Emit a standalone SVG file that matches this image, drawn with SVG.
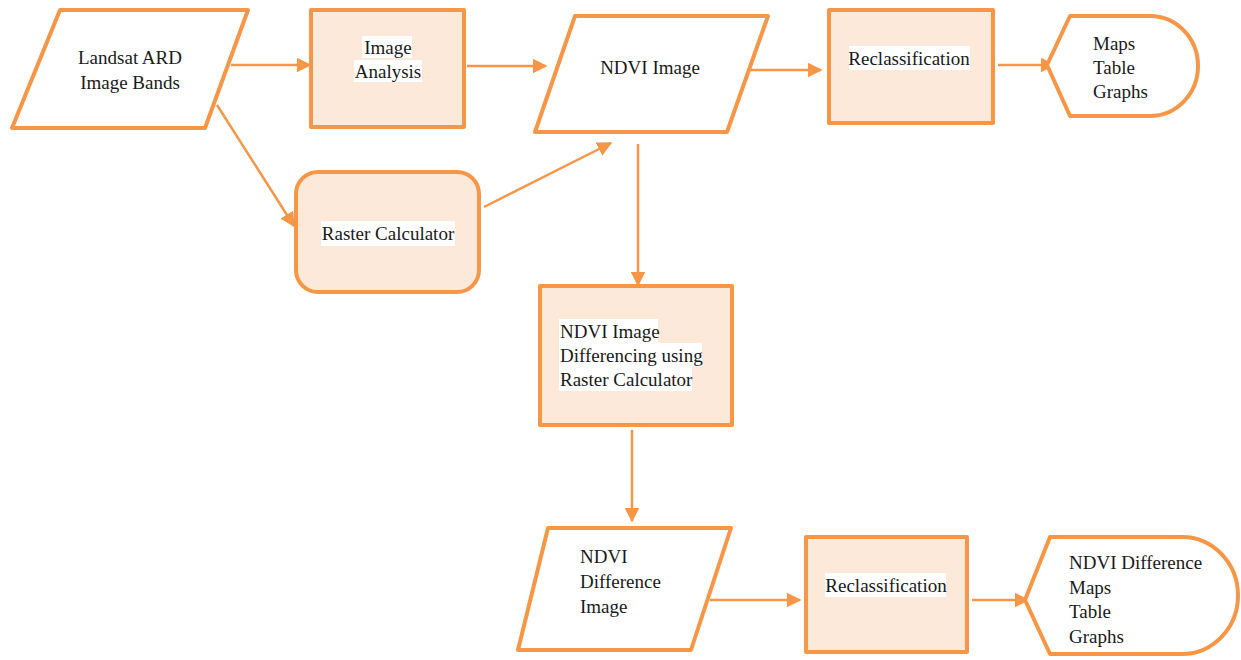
<svg xmlns="http://www.w3.org/2000/svg" width="1241" height="660" viewBox="0 0 1241 660">
  <style>
    .io { fill: #ffffff; stroke: #F79646; stroke-width: 4; stroke-linejoin: round; }
    .proc { fill: #FDE9D9; stroke: #F79646; stroke-width: 4; stroke-linejoin: round; }
    .hl { fill: #ffffff; }
    .lbl { font-family: 'Liberation Serif', 'Times New Roman', Times, 'DejaVu Serif', serif; font-size: 19px; fill: #1a1a1a; }
    .mid { text-anchor: middle; }
    .edge { fill: none; stroke: #F79646; stroke-width: 2.5; marker-end: url(#arrow); }
  </style>
  <defs>
    <marker id="arrow" viewBox="0 0 10 10" refX="9" refY="5" markerWidth="6" markerHeight="6" orient="auto" markerUnits="strokeWidth">
      <path d="M0,0 L10,5 L0,10 z" fill="#F79646"/>
    </marker>
  </defs>

  <rect width="1241" height="660" fill="#ffffff"/>

  <!-- connectors -->
  <g id="connectors">
    <line class="edge" x1="231" y1="65" x2="310" y2="65"/>
    <line class="edge" x1="467" y1="66" x2="546" y2="66"/>
    <line class="edge" x1="750" y1="70" x2="821" y2="70"/>
    <line class="edge" x1="998" y1="65" x2="1054" y2="65"/>
    <line class="edge" x1="217" y1="105" x2="294" y2="226"/>
    <line class="edge" x1="484" y1="207" x2="611" y2="143"/>
    <line class="edge" x1="638" y1="144" x2="638" y2="285"/>
    <line class="edge" x1="632" y1="430" x2="632" y2="521"/>
    <line class="edge" x1="710" y1="600" x2="800" y2="600"/>
    <line class="edge" x1="972" y1="600" x2="1028" y2="600"/>
  </g>

  <!-- input bands -->
  <g id="landsat">
    <polygon class="io" points="60,10 248,10 205,128 12,128"/>
    <text class="lbl mid" x="130" y="64">Landsat ARD</text>
    <text class="lbl mid" x="130" y="89">Image Bands</text>
  </g>

  <g id="image-analysis">
    <rect class="proc" x="311" y="10" width="153" height="117"/>
    <rect class="hl" x="362" y="36" width="50" height="22"/>
    <rect class="hl" x="354" y="60" width="68" height="22"/>
    <text class="lbl mid" x="388" y="54">Image</text>
    <text class="lbl mid" x="388" y="78">Analysis</text>
  </g>

  <g id="ndvi-image">
    <polygon class="io" points="575,16 768,16 727,132 535,132"/>
    <text class="lbl mid" x="650" y="74">NDVI Image</text>
  </g>

  <g id="reclass-1">
    <rect class="proc" x="829" y="10" width="164" height="113"/>
    <rect class="hl" x="849" y="46" width="121" height="24"/>
    <text class="lbl mid" x="909" y="65">Reclassification</text>
  </g>

  <g id="output-1">
    <path class="io" d="M1047,65 L1070,16 L1150,16 A48,50 0 0 1 1150,116 L1070,116 Z"/>
    <text class="lbl" x="1093" y="50">Maps</text>
    <text class="lbl" x="1093" y="74">Table</text>
    <text class="lbl" x="1093" y="98">Graphs</text>
  </g>

  <g id="raster-calculator">
    <rect class="proc" x="296" y="172" width="183" height="120" rx="22" ry="22"/>
    <rect class="hl" x="321" y="221" width="134" height="25"/>
    <text class="lbl mid" x="388" y="240">Raster Calculator</text>
  </g>

  <g id="ndvi-differencing">
    <rect class="proc" x="540" y="286" width="192" height="139"/>
    <rect class="hl" x="559" y="319" width="99" height="24"/>
    <rect class="hl" x="559" y="343" width="143" height="24"/>
    <rect class="hl" x="559" y="367" width="133" height="24"/>
    <text class="lbl" x="560" y="338">NDVI Image</text>
    <text class="lbl" x="560" y="362">Differencing using</text>
    <text class="lbl" x="560" y="386">Raster Calculator</text>
  </g>

  <g id="ndvi-difference-image">
    <polygon class="io" points="548,528 731,528 691,650 518,650"/>
    <text class="lbl" x="580" y="563">NDVI</text>
    <text class="lbl" x="580" y="588">Difference</text>
    <text class="lbl" x="580" y="613">Image</text>
  </g>

  <g id="reclass-2">
    <rect class="proc" x="806" y="537" width="161" height="115"/>
    <rect class="hl" x="825" y="573" width="121" height="24"/>
    <text class="lbl mid" x="886" y="592">Reclassification</text>
  </g>

  <g id="output-2">
    <path class="io" d="M1025,600 L1050,537 L1182,537 A56,58.5 0 0 1 1182,654 L1050,654 Z"/>
    <text class="lbl" x="1069" y="569">NDVI Difference</text>
    <text class="lbl" x="1069" y="594">Maps</text>
    <text class="lbl" x="1069" y="618">Table</text>
    <text class="lbl" x="1069" y="643">Graphs</text>
  </g>
</svg>
